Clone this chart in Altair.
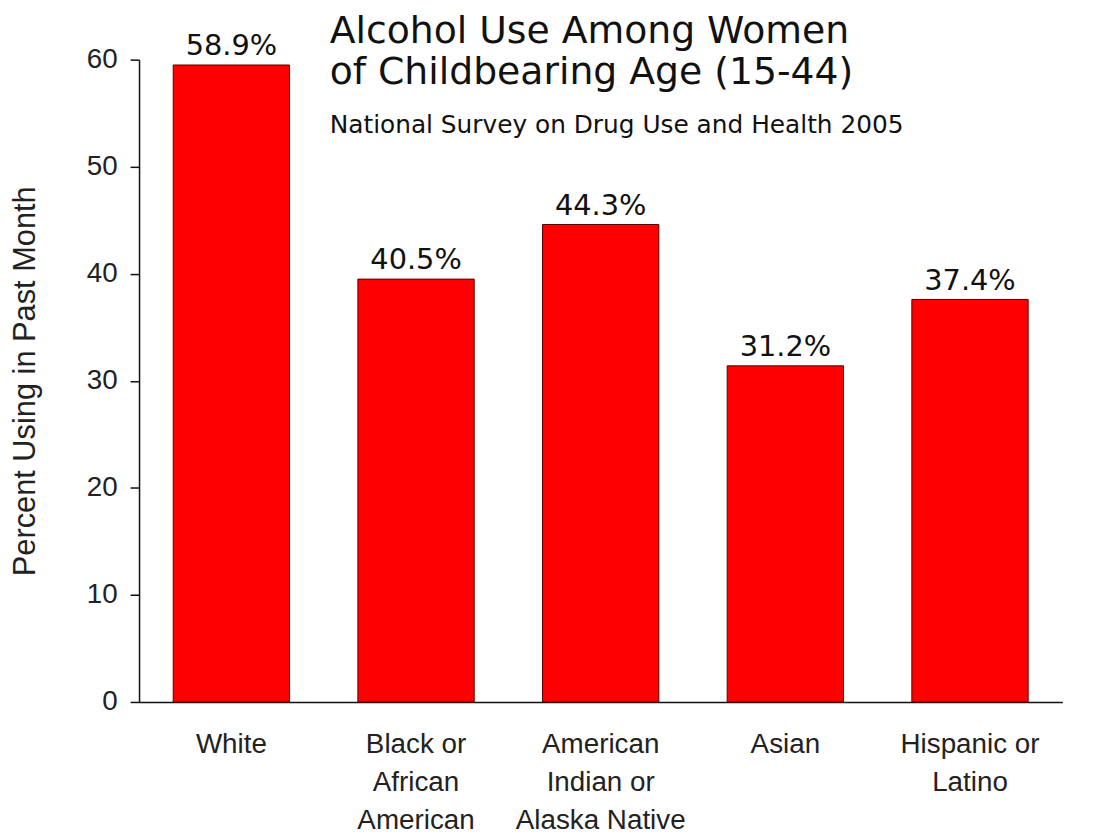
import altair as alt
import pandas as pd

# ---- data ----
categories = ["White", "Black or African American", "American Indian or Alaska Native",
              "Asian", "Hispanic or Latino"]
label_lines = [["White"], ["Black or", "African", "American"],
               ["American", "Indian or", "Alaska Native"], ["Asian"],
               ["Hispanic or", "Latino"]]
bar_values = [59.5, 39.5, 44.6, 31.4, 37.6]          # bar heights as drawn
value_labels = ["58.9%", "40.5%", "44.3%", "31.2%", "37.4%"]  # printed values
y_ticks = [0, 10, 20, 30, 40, 50, 60]

df = pd.DataFrame({"group": categories, "value": bar_values, "label": value_labels})

# multi-line x labels
expr_parts = []
for cat, lines in zip(categories, label_lines):
    arr = "[" + ",".join("'" + l + "'" for l in lines) + "]"
    expr_parts.append(f"datum.value == '{cat}' ? {arr} : ")
label_expr = "".join(expr_parts) + "datum.label"

x_enc = alt.X(
    "group:N",
    sort=categories,
    scale=alt.Scale(paddingInner=0.37, paddingOuter=0.185),
    axis=alt.Axis(
        title=None, labelAngle=0, ticks=False, labelExpr=label_expr,
        labelFont="Liberation Sans", labelFontSize=28, labelColor="#222222",
        labelLineHeight=38, labelBaseline="top", labelPadding=29, labelLimit=0,
        domainColor="#111111", domainWidth=1.5,
    ),
)
y_enc = alt.Y(
    "value:Q",
    scale=alt.Scale(domain=[0, 60], nice=False),
    axis=alt.Axis(
        title="Percent Using in Past Month", values=y_ticks, grid=False,
        labelFont="Liberation Sans", labelFontSize=28, labelColor="#222222",
        labelPadding=13, tickSize=9, tickColor="#111111", tickWidth=1.5,
        domainColor="#111111", domainWidth=1.5,
        titleFont="Liberation Sans", titleFontSize=31, titleFontWeight="normal",
        titleColor="#222222", titleAngle=-90, titleX=-105, titleY=323.5,
        titleAlign="center", titleBaseline="alphabetic",
    ),
)

bars = alt.Chart(df).mark_bar(color="#ff0000", stroke="#5a0000", strokeWidth=1).encode(
    x=x_enc, y=y_enc
)
texts = alt.Chart(df).mark_text(
    font="DejaVu Sans", fontSize=29, color="#111111", baseline="alphabetic", dy=-10
).encode(x=alt.X("group:N", sort=categories), y="value:Q", text="label:N")

chart = (
    alt.layer(bars, texts)
    .properties(
        width=930, height=647,
        background="white",
        autosize=alt.AutoSizeParams(type="none"),
        padding={"left": 132, "top": 49, "right": 46, "bottom": 131},
        title=alt.TitleParams(
            text=["Alcohol Use Among Women", "of Childbearing Age (15-44)"],
            subtitle="National Survey on Drug Use and Health 2005",
            anchor="start", frame="group", orient="top", dx=192, dy=107, offset=0,
            font="DejaVu Sans", fontSize=38, fontWeight="normal", color="#111111",
            lineHeight=41, subtitleFont="DejaVu Sans", subtitleFontSize=25,
            subtitleColor="#111111", subtitlePadding=22,
        ),
    )
    .configure_view(stroke="transparent", strokeWidth=0)
)

chart.save("out.html", embed_options={"renderer": "svg", "actions": False})
